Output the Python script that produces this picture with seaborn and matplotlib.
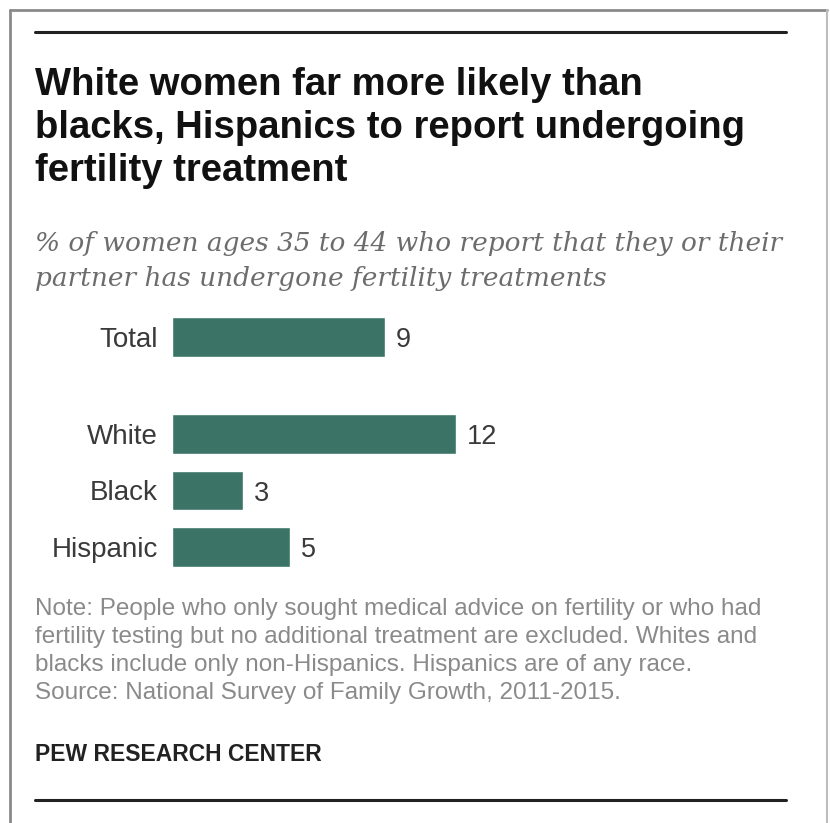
import matplotlib
matplotlib.use("Agg")
import matplotlib.pyplot as plt
import seaborn as sns
import pandas as pd
from matplotlib.lines import Line2D

total_label = ["Total"]
total_value = [9]
group_labels = ["White", "Black", "Hispanic"]
group_values = [12, 3, 5]

title = "White women far more likely than\nblacks, Hispanics to report undergoing\nfertility treatment"
subtitle = "% of women ages 35 to 44 who report that they or their\npartner has undergone fertility treatments"
note = ("Note: People who only sought medical advice on fertility or who had\n"
        "fertility testing but no additional treatment are excluded. Whites and\n"
        "blacks include only non-Hispanics. Hispanics are of any race.\n"
        "Source: National Survey of Family Growth, 2011-2015.")
credit = "PEW RESEARCH CENTER"

sns.set_theme(style="white")
plt.rcParams['font.family'] = ['Liberation Sans', 'DejaVu Sans']

W, H = 830, 823
fig = plt.figure(figsize=(W / 100, H / 100), dpi=100)
bar_color = "#3b7466"

def fx(px):
    return px / W

def fy(py):
    return 1 - py / H

x0, x1 = 172, 172 + 284 * 15 / 12  # axes spanning 0..15
unit = 56.5

def make_ax(top_px, n):
    h = unit * n
    return fig.add_axes([fx(x0), fy(top_px + h), (x1 - x0) / W, h / H])

ax1 = make_ax(337 - unit / 2, 1)
ax2 = make_ax(434 - unit / 2, 3)

for ax, labels, vals in [(ax1, total_label, total_value), (ax2, group_labels, group_values)]:
    df = pd.DataFrame({"cat": labels, "val": vals})
    sns.barplot(data=df, x="val", y="cat", orient="h", color=bar_color,
                saturation=1, width=0.7, ax=ax)
    ax.set_xlim(0, 15)
    ax.set_ylim(len(labels) - 0.5, -0.5)
    ax.set_xlabel("")
    ax.set_ylabel("")
    ax.set_xticks([])
    for s in ax.spines.values():
        s.set_visible(False)
    ax.tick_params(axis="y", length=0, pad=10, labelsize=20, labelcolor="#3a3a3a")
    for c in ax.containers:
        for t in ax.bar_label(c, fmt="%g", padding=8, fontsize=19.5, color="#3a3a3a"):
            t.xyann = (8, -2.5)
    ax.set_facecolor("none")

# frame
fig.add_artist(Line2D([fx(10), fx(827)], [fy(10), fy(10)], color="#8a8a8a", lw=2))
fig.add_artist(Line2D([fx(10), fx(10)], [fy(10), 0], color="#8a8a8a", lw=2))
fig.add_artist(Line2D([fx(827), fx(827)], [fy(10), 0], color="#bdbdbd", lw=1.5))
# rules
fig.add_artist(Line2D([fx(35), fx(786)], [fy(32), fy(32)], color="#222222", lw=2.2))
fig.add_artist(Line2D([fx(35), fx(786)], [fy(800), fy(800)], color="#222222", lw=2.2))

fig.text(fx(35), fy(67), title, ha="left", va="top", fontsize=27.5, fontweight="bold",
         color="#111111", linespacing=1.25)
fig.text(fx(35), fy(231), subtitle, ha="left", va="top", fontsize=19, style="italic",
         family="DejaVu Serif", color="#6c6c6c", linespacing=1.52)
fig.text(fx(35), fy(598), note, ha="left", va="top", fontsize=17.5, color="#8a8a8a",
         linespacing=1.35)
fig.text(fx(35), fy(743), credit, ha="left", va="top", fontsize=16.5, color="#222222",
         fontweight="bold")

fig.savefig("out.png", dpi=100)
